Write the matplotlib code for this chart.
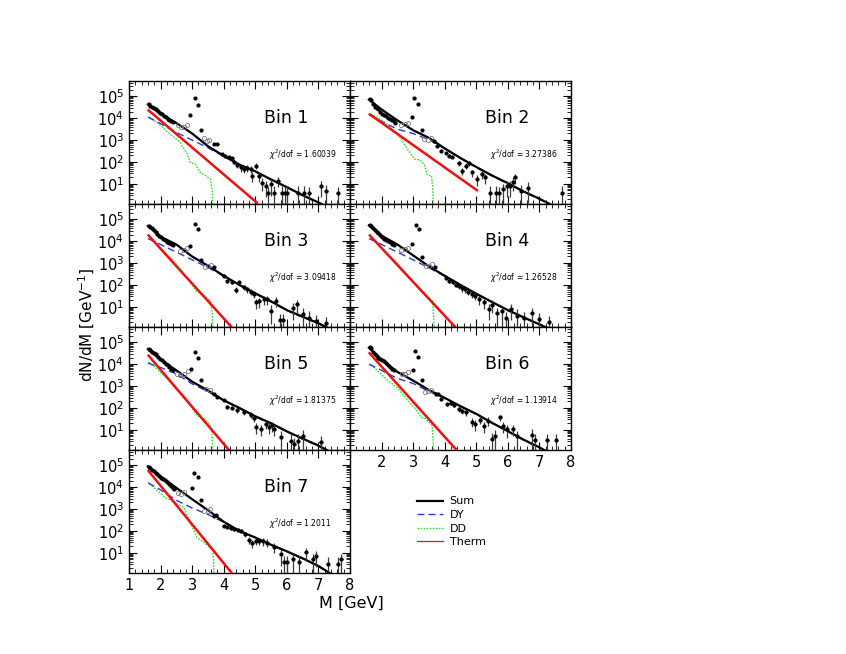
import numpy as np
import matplotlib.pyplot as plt
from matplotlib.lines import Line2D
from matplotlib.ticker import MultipleLocator, LogLocator, NullFormatter

# common mass grid for the model curves (GeV)
m_grid = [1.6, 2.0, 2.5, 3.0, 3.5, 4.0, 4.5, 5.0, 5.5, 6.0, 6.5, 7.0, 7.5, 8.0]

# ---------------- Bin 1 ----------------
b1_sum = [4.63, 4.2, 3.78, 3.3, 2.72, 2.28, 1.88, 1.57, 1.2, 0.85, 0.48, 0.15, -0.2, -0.55]
b1_dy = [4.05, 3.75, 3.35, 3.0, 2.65, 2.25, 1.86, 1.55, 1.18, 0.83, 0.46, 0.13, -0.22, -0.57]
b1_dd_m = [1.65, 1.8, 2.0, 2.2, 2.4, 2.62, 2.84, 2.94, 3.1, 3.26, 3.45, 3.58, 3.64, 3.66]
b1_dd = [4.05, 3.9, 3.67, 3.4, 3.15, 2.9, 2.36, 1.98, 1.9, 1.52, 1.35, 1.21, 0.6, 0.0]
b1_th_m = [1.62, 5.05]
b1_th = [4.36, 0.14]
b1_m = [1.62, 1.68, 1.74, 1.80, 1.86, 1.92, 1.98, 2.04, 2.10, 2.16, 2.22, 2.28, 2.34, 2.40,
        2.94, 3.08, 3.18, 3.28, 3.70, 3.80]
b1_y = [4.63, 4.57, 4.52, 4.45, 4.40, 4.33, 4.25, 4.20, 4.12, 4.05, 3.98, 3.93, 3.87, 3.82,
        4.13, 4.92, 4.62, 3.48, 2.83, 2.80]
b1_om = [2.55, 2.65, 2.75, 2.85, 3.38, 3.46, 3.54]
b1_oy = [3.68, 3.62, 3.62, 3.70, 3.08, 2.98, 3.00]
b1_hm = [3.95, 4.03, 4.16, 4.27, 4.34, 4.43, 4.54, 4.64, 4.75, 4.85, 4.90, 5.01, 5.12, 5.22,
         5.33, 5.41, 5.51, 5.60, 5.72, 5.84, 5.94, 6.02, 6.34, 6.53, 6.71, 7.08, 7.24, 7.61]
b1_hy = [2.36, 2.29, 2.21, 2.17, 2.01, 1.86, 1.75, 1.67, 1.71, 1.67, 1.37, 1.83, 1.37, 1.06,
         0.91, 0.57, 0.98, 0.60, 1.14, 0.60, 0.60, 0.60, 0.60, 0.60, 0.57, 0.91, 0.68, 0.57]
b1_he = [0.15, 0.15, 0.15, 0.2, 0.25, 0.25, 0.35, 0.35, 0.35, 0.35, 0.5, 0.3, 0.5, 0.6,
         0.7, 0.9, 0.7, 0.9, 0.5, 0.9, 0.9, 0.9, 0.9, 0.9, 0.9, 0.7, 0.9, 0.9]

# ---------------- Bin 2 ----------------
b2_sum = [4.85, 4.4, 3.9, 3.45, 3.1, 2.62, 2.18, 1.77, 1.38, 1.03, 0.65, 0.32, -0.05, -0.4]
b2_dy = [4.18, 3.85, 3.5, 3.3, 3.02, 2.6, 2.16, 1.75, 1.36, 1.01, 0.63, 0.3, -0.07, -0.42]
b2_dd_m = [1.65, 1.9, 2.1, 2.3, 2.52, 2.78, 3.04, 3.2, 3.35, 3.45, 3.58, 3.62, 3.64]
b2_dd = [4.2, 4.0, 3.82, 3.55, 3.28, 2.67, 2.13, 2.1, 1.9, 1.4, 1.37, 0.8, 0.0]
b2_th_m = [1.63, 5.02]
b2_th = [4.17, 0.71]
b2_m = [1.62, 1.66, 1.72, 1.78, 1.84, 1.90, 1.96, 2.02, 2.08, 2.14, 2.20, 2.26, 2.32, 2.38, 2.44,
        2.96, 3.04, 3.16, 3.27, 3.66, 3.77, 3.87, 4.03]
b2_y = [4.88, 4.82, 4.64, 4.52, 4.48, 4.40, 4.28, 4.20, 4.15, 4.08, 4.00, 3.96, 3.93, 3.85, 3.80,
        4.05, 4.92, 4.63, 3.47, 2.95, 2.75, 2.52, 2.41]
b2_om = [2.62, 2.73, 2.85, 3.35, 3.46, 3.58]
b2_oy = [3.67, 3.72, 3.77, 3.05, 3.02, 3.08]
b2_hm = [4.13, 4.24, 4.45, 4.55, 4.66, 4.76, 4.87, 5.02, 5.18, 5.28, 5.44, 5.63, 5.73, 5.86,
         5.96, 6.07, 6.17, 6.24, 6.43, 6.64, 7.72]
b2_hy = [2.29, 2.24, 1.95, 1.60, 1.83, 1.95, 1.52, 1.21, 1.44, 1.29, 0.60, 0.60, 0.57, 0.75,
         0.91, 0.91, 1.09, 1.29, 0.68, 0.83, 0.60]
b2_he = [0.15, 0.15, 0.25, 0.35, 0.3, 0.25, 0.35, 0.5, 0.4, 0.5, 0.9, 0.9, 0.9, 0.8,
         0.7, 0.7, 0.6, 0.5, 0.9, 0.8, 0.9]

# ---------------- Bin 3 ----------------
b3_sum = [4.7, 4.2, 3.85, 3.3, 2.88, 2.42, 2.0, 1.62, 1.25, 0.85, 0.55, 0.25, -0.1, -0.45]
b3_dy = [4.12, 3.85, 3.5, 3.15, 2.8, 2.4, 1.98, 1.6, 1.23, 0.83, 0.53, 0.23, -0.12, -0.47]
b3_dd_m = [1.67, 2.0, 2.5, 2.9, 3.15, 3.4, 3.58, 3.63, 3.66]
b3_dd = [4.19, 3.7, 2.95, 2.2, 1.7, 1.5, 1.28, 0.8, 0.0]
b3_th_m = [1.62, 4.34]
b3_th = [4.26, -0.07]
b3_m = [1.62, 1.67, 1.72, 1.78, 1.84, 1.90, 1.96, 2.02, 2.08, 2.14, 2.20, 2.26, 2.32, 2.38,
        2.94, 3.10, 3.19, 3.28, 3.69]
b3_y = [4.70, 4.66, 4.62, 4.50, 4.42, 4.32, 4.24, 4.18, 4.12, 4.05, 3.98, 3.93, 3.88, 3.84,
        3.80, 4.77, 4.57, 3.12, 2.81]
b3_om = [2.62, 2.73, 2.84, 3.42, 3.51, 3.60]
b3_oy = [3.57, 3.62, 3.68, 2.84, 2.86, 2.93]
b3_hm = [4.00, 4.11, 4.27, 4.38, 4.48, 4.64, 4.75, 4.85, 4.96, 5.03, 5.12, 5.28, 5.38, 5.49,
         5.65, 5.78, 5.88, 6.18, 6.32, 6.50, 6.71, 6.92, 7.24]
b3_hy = [2.43, 2.17, 2.12, 1.77, 2.12, 1.89, 1.81, 1.70, 1.58, 1.20, 1.25, 1.35, 1.35, 0.82,
         1.28, 0.39, 0.39, 0.94, 1.12, 0.66, 0.51, 0.36, 0.28]
b3_he = [0.15, 0.2, 0.2, 0.3, 0.2, 0.25, 0.3, 0.3, 0.35, 0.5, 0.5, 0.45, 0.45, 0.75,
         0.5, 0.9, 0.9, 0.7, 0.6, 0.9, 0.9, 0.9, 0.9]

# ---------------- Bin 4 ----------------
b4_sum = [4.72, 4.25, 3.85, 3.35, 2.85, 2.42, 2.0, 1.6, 1.22, 0.85, 0.52, 0.2, -0.12, -0.45]
b4_dy = [4.12, 3.85, 3.5, 3.15, 2.78, 2.4, 1.98, 1.58, 1.2, 0.83, 0.5, 0.18, -0.14, -0.47]
b4_dd_m = [1.65, 2.0, 2.5, 2.9, 3.15, 3.4, 3.6, 3.64, 3.67]
b4_dd = [4.2, 3.7, 3.0, 2.3, 1.85, 1.5, 1.3, 0.8, 0.0]
b4_th_m = [1.63, 4.39]
b4_th = [4.26, -0.01]
b4_m = [1.62, 1.67, 1.72, 1.78, 1.84, 1.90, 1.96, 2.02, 2.08, 2.14, 2.20, 2.26, 2.32, 2.38,
        2.96, 3.08, 3.18, 3.28, 3.70]
b4_y = [4.72, 4.68, 4.60, 4.52, 4.44, 4.36, 4.28, 4.20, 4.12, 4.06, 4.00, 3.94, 3.88, 3.83,
        3.85, 4.72, 4.55, 3.30, 2.80]
b4_om = [2.62, 2.73, 2.84, 3.42, 3.51, 3.60]
b4_oy = [3.60, 3.64, 3.70, 2.86, 2.88, 2.95]
b4_hm = [4.05, 4.15, 4.25, 4.35, 4.45, 4.55, 4.65, 4.75, 4.85, 4.95, 5.10, 5.25, 5.40, 5.50,
         5.65, 5.80, 5.95, 6.10, 6.30, 6.50, 6.75, 7.00, 7.30]
b4_hy = [2.30, 2.20, 2.15, 2.00, 1.95, 1.85, 1.80, 1.70, 1.60, 1.50, 1.35, 1.20, 0.90, 1.10,
         0.70, 0.80, 0.50, 0.90, 0.60, 0.50, 0.70, 0.45, 0.30]
b4_he = [0.15, 0.2, 0.2, 0.2, 0.25, 0.3, 0.3, 0.3, 0.35, 0.35, 0.45, 0.5, 0.7, 0.6,
         0.8, 0.8, 0.9, 0.7, 0.9, 0.9, 0.8, 0.9, 0.9]

# ---------------- Bin 5 ----------------
b5_sum = [4.69, 4.2, 3.72, 3.2, 2.8, 2.35, 2.0, 1.62, 1.3, 0.93, 0.6, 0.28, -0.1, -0.45]
b5_dy = [4.05, 3.85, 3.55, 3.1, 2.75, 2.33, 1.98, 1.6, 1.28, 0.91, 0.58, 0.26, -0.12, -0.47]
b5_dd_m = [1.62, 1.8, 2.2, 2.6, 3.0, 3.15, 3.4, 3.58, 3.63, 3.66]
b5_dd = [4.08, 3.9, 3.35, 2.7, 2.0, 1.66, 1.5, 1.2, 0.8, 0.0]
b5_th_m = [1.62, 4.27]
b5_th = [4.39, -0.1]
b5_m = [1.62, 1.68, 1.74, 1.80, 1.86, 1.92, 1.98, 2.04, 2.10, 2.16, 2.22, 2.28, 2.34, 2.40,
        2.97, 3.10, 3.18, 3.28, 3.69, 3.79, 4.00]
b5_y = [4.70, 4.63, 4.56, 4.50, 4.45, 4.35, 4.25, 4.18, 4.10, 4.02, 3.94, 3.86, 3.79, 3.72,
        3.80, 4.54, 4.30, 3.30, 2.66, 2.50, 2.35]
b5_om = [2.52, 2.62, 2.75, 2.86, 3.45, 3.55]
b5_oy = [3.55, 3.50, 3.57, 3.68, 2.85, 2.80]
b5_hm = [4.11, 4.27, 4.43, 4.64, 4.85, 4.96, 5.01, 5.17, 5.33, 5.44, 5.54, 5.60, 5.81, 6.13,
         6.23, 6.34, 6.50, 7.08]
b5_hy = [2.04, 2.00, 1.89, 1.81, 1.69, 1.54, 1.12, 1.05, 1.28, 1.12, 1.20, 1.05, 0.66, 0.51,
         0.36, 0.51, 0.74, 0.43]
b5_he = [0.2, 0.2, 0.25, 0.25, 0.3, 0.35, 0.5, 0.55, 0.45, 0.5, 0.5, 0.55, 0.9, 0.9,
         0.9, 0.9, 0.8, 0.9]

# ---------------- Bin 6 ----------------
b6_sum = [4.75, 4.2, 3.65, 3.25, 2.82, 2.46, 2.08, 1.73, 1.32, 0.94, 0.55, 0.2, -0.2, -0.55]
b6_dy = [4.0, 3.72, 3.35, 3.12, 2.75, 2.44, 2.06, 1.71, 1.3, 0.92, 0.53, 0.18, -0.22, -0.57]
b6_dd_m = [1.67, 2.1, 2.5, 2.93, 3.09, 3.25, 3.4, 3.56, 3.6, 3.63, 3.65]
b6_dd = [3.98, 3.38, 2.92, 2.17, 1.95, 1.57, 1.5, 1.27, 1.2, 0.6, 0.0]
b6_th_m = [1.62, 4.43]
b6_th = [4.5, -0.01]
b6_m = [1.62, 1.66, 1.72, 1.78, 1.84, 1.90, 1.96, 2.02, 2.08, 2.14, 2.20, 2.26, 2.32, 2.38,
        2.99, 3.06, 3.16, 3.27, 3.72, 3.79, 3.89]
b6_y = [4.78, 4.73, 4.56, 4.45, 4.38, 4.30, 4.25, 4.20, 4.14, 4.06, 3.98, 3.85, 3.78, 3.74,
        3.75, 4.58, 4.35, 3.30, 2.62, 2.62, 2.40]
b6_om = [2.64, 2.75, 2.85, 3.37, 3.48, 3.58]
b6_oy = [3.53, 3.57, 3.63, 2.73, 2.77, 2.82]
b6_hm = [4.08, 4.19, 4.29, 4.45, 4.55, 4.69, 4.87, 4.97, 5.13, 5.23, 5.36, 5.49, 5.60, 5.75,
         5.86, 5.96, 6.15, 6.30, 6.75, 6.85, 7.24, 7.53]
b6_hy = [2.17, 2.22, 2.13, 1.95, 1.87, 1.80, 1.38, 1.27, 1.47, 1.17, 1.42, 0.59, 0.74, 1.57,
         1.17, 1.02, 1.05, 0.71, 0.77, 0.52, 0.52, 0.52]
b6_he = [0.2, 0.15, 0.2, 0.25, 0.25, 0.3, 0.45, 0.5, 0.4, 0.5, 0.4, 0.9, 0.8, 0.35,
         0.5, 0.6, 0.55, 0.8, 0.8, 0.9, 0.9, 0.9]

# ---------------- Bin 7 ----------------
b7_sum = [4.95, 4.5, 3.97, 3.45, 2.95, 2.42, 2.0, 1.7, 1.37, 1.07, 0.75, 0.4, -0.05, -0.45]
b7_dy = [4.2, 3.88, 3.4, 3.05, 2.75, 2.4, 1.98, 1.68, 1.35, 1.05, 0.73, 0.38, -0.07, -0.47]
b7_dd_m = [1.65, 2.13, 2.73, 2.94, 3.15, 3.47, 3.66, 3.68, 3.69]
b7_dd = [4.16, 3.54, 3.08, 2.39, 1.70, 1.37, 1.09, 0.5, 0.0]
b7_th_m = [1.62, 4.27]
b7_th = [4.74, 0.05]
b7_m = [1.62, 1.67, 1.72, 1.78, 1.84, 1.90, 1.96, 2.02, 2.08, 2.14, 2.20, 2.26, 2.32, 2.38, 2.44,
        3.00, 3.07, 3.18, 3.28, 3.69, 3.77]
b7_y = [4.93, 4.86, 4.80, 4.72, 4.66, 4.60, 4.50, 4.43, 4.38, 4.31, 4.22, 4.14, 4.07, 3.98, 3.90,
        3.96, 4.66, 4.46, 3.42, 2.70, 2.75]
b7_om = [2.54, 2.65, 2.75, 3.39, 3.49, 3.58]
b7_oy = [3.73, 3.70, 3.77, 2.93, 2.93, 3.00]
b7_hm = [4.00, 4.11, 4.22, 4.34, 4.45, 4.56, 4.69, 4.80, 4.91, 5.01, 5.12, 5.26, 5.38, 5.60,
         5.81, 5.92, 6.02, 6.18, 6.39, 6.60, 6.82, 6.92, 7.30, 7.61, 7.72]
b7_hy = [2.23, 2.20, 2.13, 2.09, 2.04, 2.01, 1.86, 1.58, 1.43, 1.55, 1.55, 1.52, 1.47, 1.28,
         0.94, 0.56, 0.56, 0.71, 0.56, 1.02, 0.71, 0.86, 0.51, 0.51, 0.71]
b7_he = [0.15, 0.15, 0.2, 0.2, 0.2, 0.2, 0.25, 0.35, 0.4, 0.35, 0.35, 0.4, 0.4, 0.5,
         0.7, 0.9, 0.9, 0.8, 0.9, 0.6, 0.8, 0.7, 0.9, 0.9, 0.8]

chi2 = ['1.60039', '3.27386', '3.09418', '1.26528', '1.81375', '1.13914', '1.2011']
x_ticks = [1, 2, 3, 4, 5, 6, 7, 8]
y_ticks = [1e1, 1e2, 1e3, 1e4, 1e5]

bins = [
    (b1_sum, b1_dy, b1_dd_m, b1_dd, b1_th_m, b1_th, b1_m, b1_y, b1_om, b1_oy, b1_hm, b1_hy, b1_he),
    (b2_sum, b2_dy, b2_dd_m, b2_dd, b2_th_m, b2_th, b2_m, b2_y, b2_om, b2_oy, b2_hm, b2_hy, b2_he),
    (b3_sum, b3_dy, b3_dd_m, b3_dd, b3_th_m, b3_th, b3_m, b3_y, b3_om, b3_oy, b3_hm, b3_hy, b3_he),
    (b4_sum, b4_dy, b4_dd_m, b4_dd, b4_th_m, b4_th, b4_m, b4_y, b4_om, b4_oy, b4_hm, b4_hy, b4_he),
    (b5_sum, b5_dy, b5_dd_m, b5_dd, b5_th_m, b5_th, b5_m, b5_y, b5_om, b5_oy, b5_hm, b5_hy, b5_he),
    (b6_sum, b6_dy, b6_dd_m, b6_dd, b6_th_m, b6_th, b6_m, b6_y, b6_om, b6_oy, b6_hm, b6_hy, b6_he),
    (b7_sum, b7_dy, b7_dd_m, b7_dd, b7_th_m, b7_th, b7_m, b7_y, b7_om, b7_oy, b7_hm, b7_hy, b7_he),
]

W, H = 846, 654
fig = plt.figure(figsize=(W / 100, H / 100), dpi=100)

col_x = [129, 350]
pw, ph = 221, 123
top = 81

c_sum, c_dy, c_dd, c_th = 'black', '#2a3ad8', '#33dd33', '#ee1111'

for i, (s, dy, ddm, dd, thm, th, m, y, om, oy, hm, hy, he) in enumerate(bins):
    r, c = divmod(i, 2)
    ax = fig.add_axes([col_x[c] / W, 1 - (top + (r + 1) * ph) / H, pw / W, ph / H])
    ax.set_yscale('log')

    ax.plot(ddm, 10 ** np.array(dd), color=c_dd, lw=1.0, ls=(0, (1.2, 1.0)), zorder=2)
    ax.plot(m_grid, 10 ** np.array(dy), color=c_dy, lw=1.0, ls=(0, (5, 3)), zorder=3)
    ax.plot(thm, 10 ** np.array(th), color=c_th, lw=1.8, zorder=3)
    ax.plot(m_grid, 10 ** np.array(s), color=c_sum, lw=1.6, zorder=4)

    ax.plot(om, 10 ** np.array(oy), 'o', ms=3.0, mfc='none', mec='#777777', mew=0.6, zorder=5)
    ax.errorbar(m, 10 ** np.array(y), xerr=0.035, fmt='o', ms=2.0, color='black',
                elinewidth=0.8, capsize=0, zorder=5)
    hv = 10 ** np.array(hy)
    ax.errorbar(hm, hv, yerr=hv * np.array(he), xerr=0.05, fmt='o', ms=2.0, color='black',
                ecolor='#3a3a3a', elinewidth=0.9, capsize=0, zorder=5)

    ax.set_xlim(1, 8)
    ax.set_ylim(1.2, 5e5)
    ax.set_xticks(x_ticks)
    ax.xaxis.set_minor_locator(MultipleLocator(0.2))
    ax.set_yticks(y_ticks)
    ax.yaxis.set_minor_locator(LogLocator(base=10, subs=np.arange(2, 10), numticks=12))
    ax.yaxis.set_minor_formatter(NullFormatter())
    ax.tick_params(which='both', direction='in', top=True, right=True, labelsize=10.5)
    ax.tick_params(which='major', length=6, width=0.8)
    ax.tick_params(which='minor', length=3, width=0.6)
    for sp in ax.spines.values():
        sp.set_linewidth(1.0)

    if c == 1:
        ax.tick_params(axis='y', labelleft=False)
    if i == 5:
        ax.set_xticklabels(['', '2', '3', '4', '5', '6', '7', '8'])
    elif i != 6:
        ax.tick_params(axis='x', labelbottom=False)

    ax.text(0.71, 0.70, 'Bin %d' % (i + 1), transform=ax.transAxes, fontsize=12.5,
            ha='center', va='center')
    ax.text(0.635, 0.40, r'$\chi^{2}$/dof = ' + chi2[i], transform=ax.transAxes,
            fontsize=5.5, ha='left', va='center')

fig.text(87 / W, 1 - 325 / H, r'dN/dM [GeV$^{-1}$]', rotation=90, fontsize=11,
         ha='center', va='center')
fig.text(351 / W, 1 - 603 / H, 'M [GeV]', fontsize=11.5, ha='center', va='center')

handles = [Line2D([], [], color=c_sum, lw=1.6),
           Line2D([], [], color=c_dy, lw=1.0, ls=(0, (5, 3))),
           Line2D([], [], color=c_dd, lw=1.0, ls=(0, (1.2, 1.0))),
           Line2D([], [], color=c_th, lw=0.9)]
fig.legend(handles, ['Sum', 'DY', 'DD', 'Therm'], loc='upper left',
           bbox_to_anchor=(412.5 / W, 1 - 492 / H), borderaxespad=0, frameon=False,
           fontsize=8, handlelength=2.35, labelspacing=0.32, handletextpad=0.6)

fig.savefig('out.png', dpi=100)
